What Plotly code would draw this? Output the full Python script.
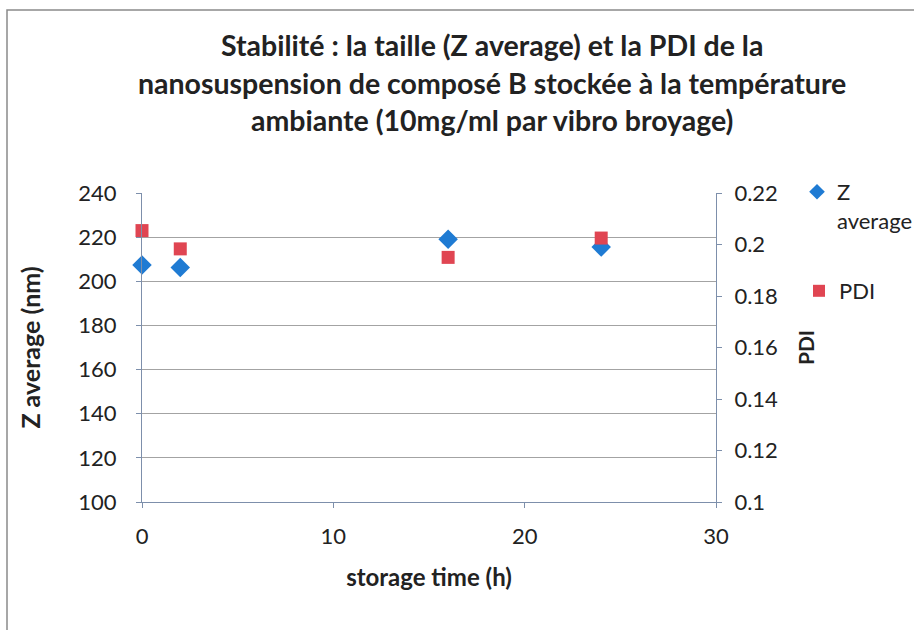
import plotly.graph_objects as go

# Storage time (h) and measured values
time_h = [0, 2, 16, 24]
z_average = [207.4, 206.3, 219.0, 215.5]
pdi = [0.2054, 0.1983, 0.1950, 0.2025]

title_lines = [
    "Stabilité : la taille (Z average) et la PDI de la",
    "nanosuspension de composé B stockée à la température",
    "ambiante (10mg/ml par vibro broyage)",
]

W, H = 914, 630
L, R, T, B = 142, 198, 193, 128
FONT = "Lato"
TXT = "#222222"
AXIS_LINE = "#7d8fab"
GRID = "#a3a3a3"

fig = go.Figure()

fig.add_trace(go.Scatter(
    x=time_h, y=z_average, mode="markers", name="Z<br>average",
    marker=dict(symbol="diamond", size=15, color="#1f7bd3"),
    cliponaxis=False, yaxis="y", legend="legend",
))
fig.add_trace(go.Scatter(
    x=time_h, y=pdi, mode="markers", name="PDI",
    marker=dict(symbol="square", size=13, color="#e04552"),
    cliponaxis=False, yaxis="y2", legend="legend2",
))

# Convert pixel positions to paper coordinates of the plot area
pw, ph = W - L - R, H - T - B
def px(x):
    return (x - L) / pw
def py(y):
    return (H - B - y) / ph

annotations = []
for i, line in enumerate(title_lines):
    annotations.append(dict(
        text=f"<b>{line}</b>", xref="paper", yref="paper",
        x=px(492), y=py(45 + i * 37.5), xanchor="center", yanchor="middle",
        showarrow=False, font=dict(family=FONT, size=28.5, color=TXT),
    ))

fig.update_layout(
    width=W, height=H,
    margin=dict(l=L, r=R, t=T, b=B, autoexpand=False),
    paper_bgcolor="white", plot_bgcolor="white",
    font=dict(family=FONT, size=22, color=TXT),
    showlegend=True,
    legend=dict(x=px(797), y=py(171), xanchor="left", yanchor="top",
                valign="top", itemsizing="constant",
                font=dict(family=FONT, size=22, color=TXT),
                bgcolor="rgba(0,0,0,0)"),
    legend2=dict(x=px(799), y=py(270), xanchor="left", yanchor="top",
                 valign="top", itemsizing="constant",
                 font=dict(family=FONT, size=22, color=TXT),
                 bgcolor="rgba(0,0,0,0)"),
    xaxis=dict(
        range=[0, 30], dtick=10, tick0=0, showgrid=False, zeroline=False,
        showline=True, linecolor=AXIS_LINE, linewidth=1,
        ticks="outside", ticklen=5, tickcolor=AXIS_LINE,
        ticklabelstandoff=10,
        tickfont=dict(family=FONT, size=22, color=TXT),
        title=dict(text="<b>storage time (h)</b>", standoff=20,
                   font=dict(family=FONT, size=24, color=TXT)),
    ),
    yaxis=dict(
        range=[100, 240], dtick=20, tick0=100, showgrid=True,
        gridcolor=GRID, gridwidth=1, zeroline=False,
        showline=True, linecolor=AXIS_LINE, linewidth=1,
        ticks="outside", ticklen=5, tickcolor=AXIS_LINE,
        ticklabelstandoff=15,
        tickfont=dict(family=FONT, size=22, color=TXT),
        title=dict(text="<b>Z average (nm)</b>", standoff=30,
                   font=dict(family=FONT, size=25, color=TXT)),
    ),
    yaxis2=dict(
        range=[0.1, 0.22], dtick=0.02, tick0=0.1, overlaying="y", side="right",
        showgrid=False, zeroline=False,
        showline=True, linecolor=AXIS_LINE, linewidth=1,
        ticks="outside", ticklen=5, tickcolor=AXIS_LINE,
        ticklabelstandoff=8,
        tickfont=dict(family=FONT, size=22, color=TXT),
        title=dict(text="<b>PDI</b>", standoff=22,
                   font=dict(family=FONT, size=21, color=TXT)),
    ),
    annotations=annotations,
    shapes=[dict(
        type="rect", xref="paper", yref="paper",
        x0=px(7), y0=py(660), x1=px(940), y1=py(10),
        line=dict(color="#8a8a8a", width=1.5), fillcolor="rgba(0,0,0,0)",
        layer="below",
    )],
)

fig.write_html("out.html")
